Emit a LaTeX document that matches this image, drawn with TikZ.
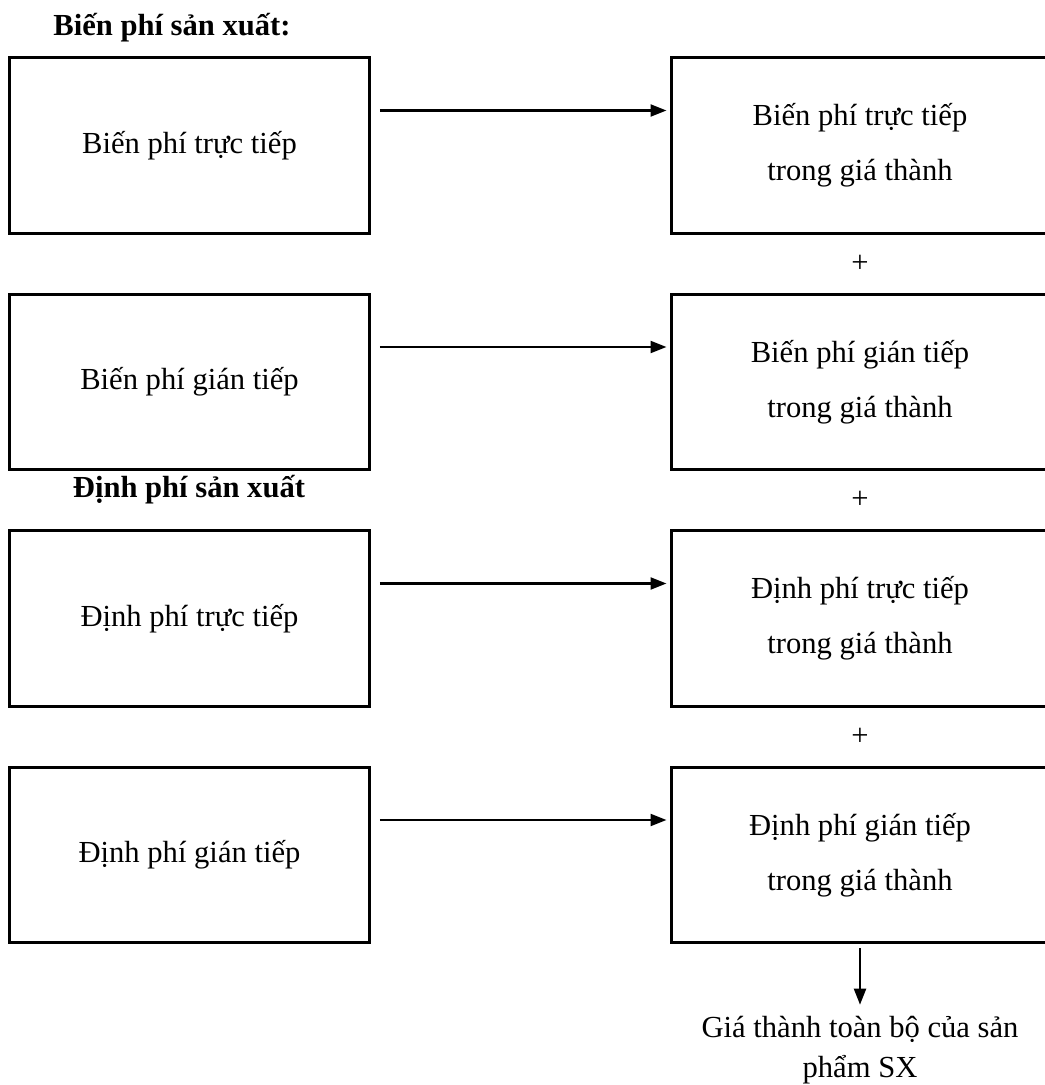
\documentclass[tikz,border=0pt]{standalone}
\usepackage{fontspec}
\setmainfont{Liberation Serif}
\usetikzlibrary{arrows.meta,calc}

\begin{document}
\begin{tikzpicture}[
    x=0.5pt, y=-0.5pt,
    every node/.style={font=\fontsize{15.3}{27.5}\selectfont},
    lbox/.style={draw, line width=1.5pt, minimum width=179.75pt, minimum height=87.75pt},
    rbox/.style={lbox, minimum width=189pt, align=center},
    head/.style={font=\fontsize{15.3}{18}\selectfont\bfseries, anchor=base},
    conn/.style={line width=1.1pt, -{Triangle[length=8pt,width=6pt]}},
]
\useasboundingbox (0,0) rectangle (1044,1085);

% Headings
\node[head] (hbp) at (172,36) {Biến phí sản xuất:};
\node[head] (hdp) at (189,497) {Định phí sản xuất};

% Cost items
\node[lbox] (l1) at (189.5,145.5) {Biến phí trực tiếp};
\node[lbox] (l2) at (189.5,382) {Biến phí gián tiếp};
\node[lbox] (l3) at (189.5,618.5) {Định phí trực tiếp};
\node[lbox] (l4) at (189.5,855) {Định phí gián tiếp};

% In the cost price
\node[rbox] (g1) at (860,145.5) {Biến phí trực tiếp\\trong giá thành};
\node[rbox] (g2) at (860,382) {Biến phí gián tiếp\\trong giá thành};
\node[rbox] (g3) at (860,618.5) {Định phí trực tiếp\\trong giá thành};
\node[rbox] (g4) at (860,855) {Định phí gián tiếp\\trong giá thành};

\foreach \i in {1,...,4}{
  \draw[conn] ([xshift=4.5pt,yshift=17.5pt]l\i.east) -- ([xshift=-1.5pt,yshift=17.5pt]g\i.west);
}

\foreach \a/\b in {g1/g2,g2/g3,g3/g4}{
  \node (p\a) at ($(\a.south)!.5!(\b.north)$) {+};
}

% Total
\node[align=center, inner sep=0pt, font=\fontsize{15.3}{20}\selectfont]
  (tp) at (860,1050) {Giá thành toàn bộ của sản\\phẩm SX};
\draw[conn] ([yshift=-2pt]g4.south) -- ([yshift=5.5pt]tp.north);

\end{tikzpicture}
\end{document}
